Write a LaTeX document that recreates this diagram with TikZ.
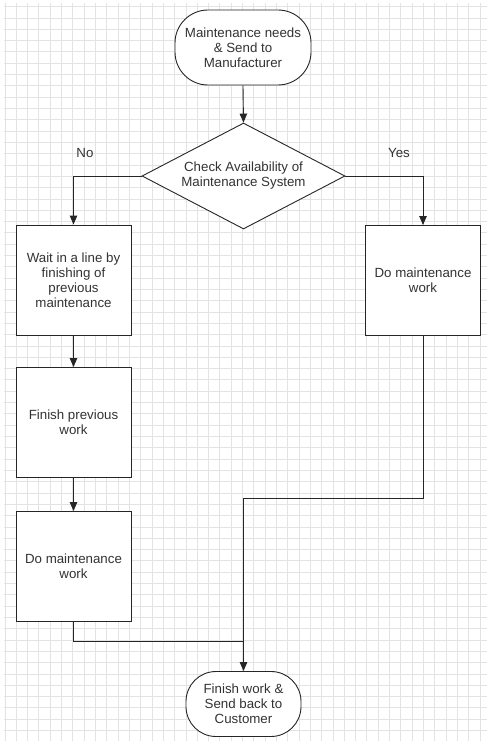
\documentclass[tikz,border=0pt]{standalone}
\usepackage{fontspec}
\setmainfont{Liberation Sans}
\usetikzlibrary{shapes.geometric,arrows.meta}
\begin{document}
\begin{tikzpicture}[x=1pt,y=-1pt,
  txt/.style={font=\fontsize{13.3}{15}\selectfont, text=black!80, align=center},
  procbox/.style={txt, draw=black!85, line width=0.9pt, fill=white, minimum width=115pt, minimum height=110pt, inner sep=0pt},
  term/.style={txt, draw=black!85, line width=0.9pt, fill=white, inner sep=0pt},
  decision/.style={txt, diamond, draw=black!85, line width=0.9pt, fill=white, aspect=1.915, inner sep=0pt, minimum width=203pt, minimum height=106pt},
  conn/.style={draw=black!85, line width=0.9pt},
  arr/.style={conn, -{Triangle[length=9pt,width=7.5pt]}},
  gridline/.style={draw=black!11, line width=0.9pt}]
\useasboundingbox (0,0) rectangle (487,741);
\fill[white] (0,0) rectangle (487,741);
\foreach \i in {0,...,42} \draw[gridline] ({5+11.31*\i},3) -- ({5+11.31*\i},741);
\foreach \j in {0,...,64} \draw[gridline] (4,{6.7+11.31*\j}) -- (487,{6.7+11.31*\j});

\node[term, minimum width=136pt, minimum height=75pt, rounded corners=33pt] (start) at (243,47.5) {Maintenance needs\\\& Send to\\Manufacturer};
\node[decision] (check) at (243.5,176) {Check Availability of\\Maintenance System};
\node[procbox] (wait) at (73.5,280) {Wait in a line by\\finishing of\\previous\\maintenance};
\node[procbox] (finprev) at (73.5,422.5) {Finish previous\\work};
\node[procbox] (doleft) at (73.5,566.5) {Do maintenance\\work};
\node[procbox] (doright) at (423,280.5) {Do maintenance\\work};
\node[term, minimum width=115pt, minimum height=65pt, rounded corners=30pt] (finish) at (243.5,704) {Finish work \&\\Send back to\\Customer};

\node[txt] (no) at (85,153) {No};
\node[txt] (yes) at (399,153) {Yes};

\coordinate (lb) at (73.5,641);
\coordinate (rb) at (423,498);
\coordinate (mj) at (243.5,641);
\coordinate (mr) at (243.5,498);

\draw[arr] (start.south) -- (check.north);
\draw[arr] (check.west) -| (wait.north);
\draw[arr] (check.east) -| (doright.north);
\draw[arr] (wait.south) -- (finprev.north);
\draw[arr] (finprev.south) -- (doleft.north);
\draw[conn] (doleft.south) -- (lb) -- (mj);
\draw[conn] (doright.south) -- (rb) -- (mr);
\draw[arr] (mr) -- (finish.north);
\end{tikzpicture}
\end{document}
